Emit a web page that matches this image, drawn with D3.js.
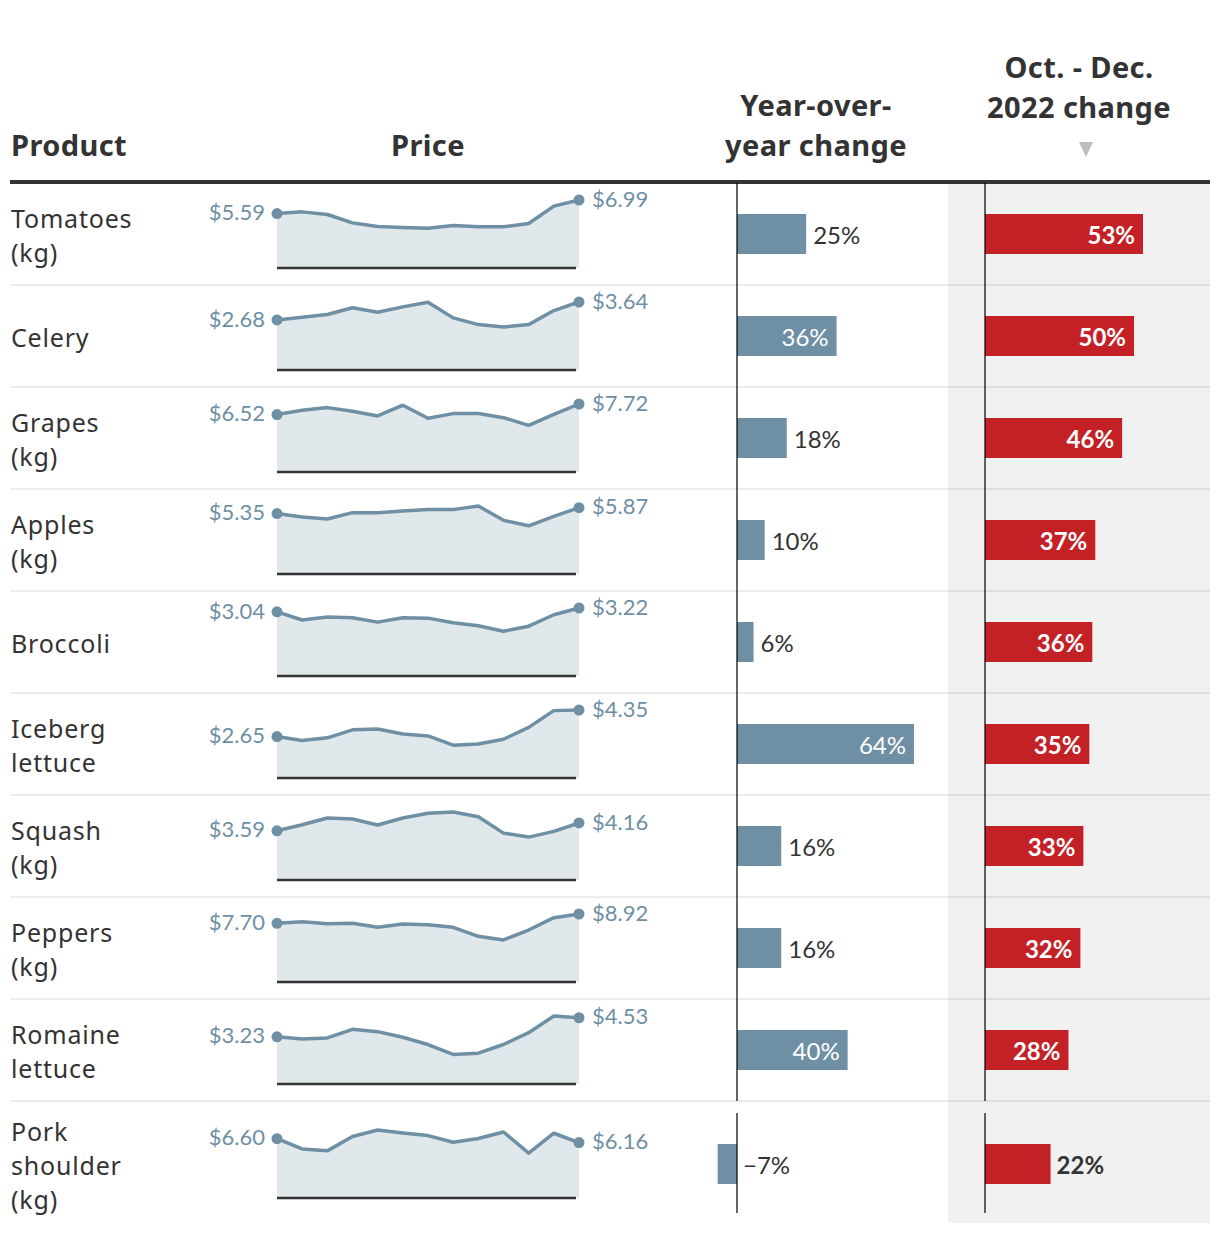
<!DOCTYPE html>
<html lang="en">
<head>
<meta charset="UTF-8">
<title>Grocery prices</title>
<script src="https://d3js.org/d3.v7.min.js"></script>
<style>
  body { margin: 0; background: #fff; }
  .prod { font-family: "Noto Sans", sans-serif; font-size: 25px; fill: #333; letter-spacing: 0.8px; }
  .head { font-family: "Noto Sans", sans-serif; font-size: 29px; font-weight: bold; fill: #333; letter-spacing: 0.4px; }
  .num { font-family: Lato, sans-serif; }
</style>
</head>
<body>
<svg width="1220" height="1234"></svg>
<script>
var products = ["Tomatoes\n(kg)", "Celery", "Grapes\n(kg)", "Apples\n(kg)", "Broccoli",
  "Iceberg\nlettuce", "Squash\n(kg)", "Peppers\n(kg)", "Romaine\nlettuce", "Pork\nshoulder\n(kg)"];

// monthly prices, 13 points per product
var tomatoes = [5.59, 5.77, 5.50, 4.64, 4.26, 4.16, 4.09, 4.36, 4.23, 4.23, 4.57, 6.36, 6.99];
var celery   = [2.68, 2.82, 2.97, 3.33, 3.09, 3.38, 3.63, 2.79, 2.43, 2.30, 2.43, 3.18, 3.64];
var grapes   = [6.52, 7.01, 7.31, 6.89, 6.36, 7.58, 6.10, 6.63, 6.63, 6.17, 5.30, 6.55, 7.72];
var apples   = [5.35, 5.04, 4.87, 5.43, 5.43, 5.58, 5.70, 5.70, 6.02, 4.75, 4.27, 5.10, 5.87];
var broccoli = [3.04, 2.65, 2.79, 2.76, 2.55, 2.76, 2.74, 2.52, 2.38, 2.12, 2.36, 2.90, 3.22];
var iceberg  = [2.65, 2.40, 2.57, 3.08, 3.14, 2.82, 2.69, 2.10, 2.18, 2.48, 3.24, 4.31, 4.35];
var squash   = [3.59, 4.03, 4.52, 4.45, 4.01, 4.52, 4.87, 4.96, 4.62, 3.42, 3.13, 3.55, 4.16];
var peppers  = [7.70, 7.91, 7.65, 7.70, 7.17, 7.61, 7.52, 7.17, 5.99, 5.51, 6.82, 8.44, 8.92];
var romaine  = [3.23, 3.08, 3.15, 3.74, 3.58, 3.20, 2.70, 2.02, 2.11, 2.70, 3.51, 4.65, 4.53];
var pork     = [6.60, 5.46, 5.24, 6.83, 7.56, 7.23, 6.94, 6.20, 6.61, 7.34, 4.98, 7.20, 6.16];
var prices = [tomatoes, celery, grapes, apples, broccoli, iceberg, squash, peppers, romaine, pork];

var yoyChange = [25, 36, 18, 10, 6, 64, 16, 16, 40, -7];
var q4Change  = [53, 50, 46, 37, 36, 35, 33, 32, 28, 22];

var svg = d3.select("svg");
var blue = "#6f8fa4", red = "#c42127", dark = "#333";

var top0 = 183, rowH = 102;
var rows = products.map(function(p, i) {
  var lines = p.split("\n");
  var pad = lines.length > 2 ? 12 : 0;
  return { i: i, lines: lines, top: top0 + i * rowH, pad: pad, y0: top0 + i * rowH + pad };
});
var bottom = rows[rows.length - 1].top + rowH + 20;

// grey column behind the Oct-Dec bars
svg.append("rect").attr("x", 948).attr("y", top0).attr("width", 262).attr("height", bottom - top0)
  .attr("fill", "#f1f1f1");

// header
svg.append("text").attr("class", "head").attr("x", 11).attr("y", 156).text("Product");
svg.append("text").attr("class", "head").attr("x", 428).attr("y", 156).attr("text-anchor", "middle").text("Price");
svg.append("text").attr("class", "head").attr("x", 816).attr("y", 116).attr("text-anchor", "middle").text("Year-over-");
svg.append("text").attr("class", "head").attr("x", 816).attr("y", 156).attr("text-anchor", "middle").text("year change");
svg.append("text").attr("class", "head").attr("x", 1079).attr("y", 78).attr("text-anchor", "middle").text("Oct. - Dec.");
svg.append("text").attr("class", "head").attr("x", 1079).attr("y", 118).attr("text-anchor", "middle").text("2022 change");
svg.append("path").attr("d", "M1079,142 L1093,142 L1086,157 Z").attr("fill", "#bdbdbd");

svg.append("line").attr("x1", 10).attr("x2", 1210).attr("y1", 182).attr("y2", 182)
  .attr("stroke", dark).attr("stroke-width", 4);

// row separators
rows.slice(1).forEach(function(r) {
  svg.append("line").attr("x1", 10).attr("x2", 1210).attr("y1", r.top).attr("y2", r.top)
    .attr("stroke", "rgba(0,0,0,0.075)").attr("stroke-width", 2);
});

// scales
var x = d3.scaleLinear().domain([0, 12]).range([277, 579]);
var xYoy = d3.scaleLinear().domain([0, 64]).range([737, 914]);
var xQ4 = d3.scaleLinear().domain([0, 53]).range([985, 1143]);
var fmtPrice = d3.format("$.2f");
var fmtPct = function(v) { return d3.format(".0f")(v) + "%"; };

var g = svg.selectAll(".row").data(rows).enter().append("g");

// product labels
g.each(function(r) {
  var t = d3.select(this).append("text").attr("class", "prod");
  var c = r.y0 + 51;
  var first = c + 11 - (r.lines.length - 1) * 17;
  r.lines.forEach(function(l, k) {
    t.append("tspan").attr("x", 11).attr("y", first + k * 34).text(l);
  });
});

// sparklines
g.each(function(r) {
  var vals = prices[r.i];
  var base = r.y0 + 85;
  var y = d3.scaleLinear().domain([0, d3.max(vals)]).range([base, base - 68]);
  var sel = d3.select(this);
  sel.append("path").datum(vals)
    .attr("d", d3.area().x(function(d, k) { return x(k); }).y0(base).y1(function(d) { return y(d); }))
    .attr("fill", "#e1e8ec");
  sel.append("line").attr("x1", x(0)).attr("x2", x(12) - 3).attr("y1", base).attr("y2", base)
    .attr("stroke", dark).attr("stroke-width", 2.5);
  sel.append("path").datum(vals)
    .attr("d", d3.line().x(function(d, k) { return x(k); }).y(function(d) { return y(d); }))
    .attr("fill", "none").attr("stroke", blue).attr("stroke-width", 3.5).attr("stroke-linejoin", "round");
  [0, 12].forEach(function(k) {
    sel.append("circle").attr("cx", x(k)).attr("cy", y(vals[k])).attr("r", 5.5).attr("fill", blue);
    sel.append("text").attr("class", "num")
      .attr("x", k === 0 ? x(k) - 12 : x(k) + 13).attr("y", y(vals[k]) - 1)
      .attr("dy", "0.35em").attr("text-anchor", k === 0 ? "end" : "start")
      .attr("font-size", 22).attr("fill", blue).text(fmtPrice(vals[k]));
  });
});

// year-over-year bars
g.append("rect")
  .attr("x", function(r) { return Math.min(xYoy(0), xYoy(yoyChange[r.i])); })
  .attr("y", function(r) { return r.y0 + 31; })
  .attr("width", function(r) { return Math.abs(xYoy(yoyChange[r.i]) - xYoy(0)); })
  .attr("height", 40).attr("fill", blue);
g.append("text").attr("class", "num").attr("font-size", 24)
  .each(function(r) {
    var v = yoyChange[r.i], t = d3.select(this);
    var inside = v >= 30;
    t.attr("x", v < 0 ? xYoy(0) + 6 : inside ? xYoy(v) - 8 : xYoy(v) + 7)
      .attr("text-anchor", inside ? "end" : "start")
      .attr("fill", inside ? "#fff" : dark);
  })
  .attr("y", function(r) { return r.y0 + 53; }).attr("dy", "0.35em")
  .text(function(r) { return fmtPct(yoyChange[r.i]); });

// Oct - Dec bars
g.append("rect")
  .attr("x", xQ4(0)).attr("y", function(r) { return r.y0 + 31; })
  .attr("width", function(r) { return xQ4(q4Change[r.i]) - xQ4(0); })
  .attr("height", 40).attr("fill", red);
g.append("text").attr("class", "num").attr("font-size", 24).attr("font-weight", "bold")
  .each(function(r) {
    var v = q4Change[r.i], t = d3.select(this);
    var inside = v >= 25;
    t.attr("x", inside ? xQ4(v) - 8 : xQ4(v) + 6)
      .attr("text-anchor", inside ? "end" : "start")
      .attr("fill", inside ? "#fff" : dark);
  })
  .attr("y", function(r) { return r.y0 + 53; }).attr("dy", "0.35em")
  .text(function(r) { return fmtPct(q4Change[r.i]); });

// zero lines, drawn on top of the bars
g.each(function(r) {
  var h = r.pad ? 100 : rowH;
  [xYoy(0), xQ4(0)].forEach(function(zx) {
    d3.select(this).append("line").attr("x1", zx).attr("x2", zx)
      .attr("y1", r.y0).attr("y2", r.y0 + h)
      .attr("stroke", "rgba(0,0,0,0.6)").attr("stroke-width", 2);
  }, this);
});
</script>
</body>
</html>
